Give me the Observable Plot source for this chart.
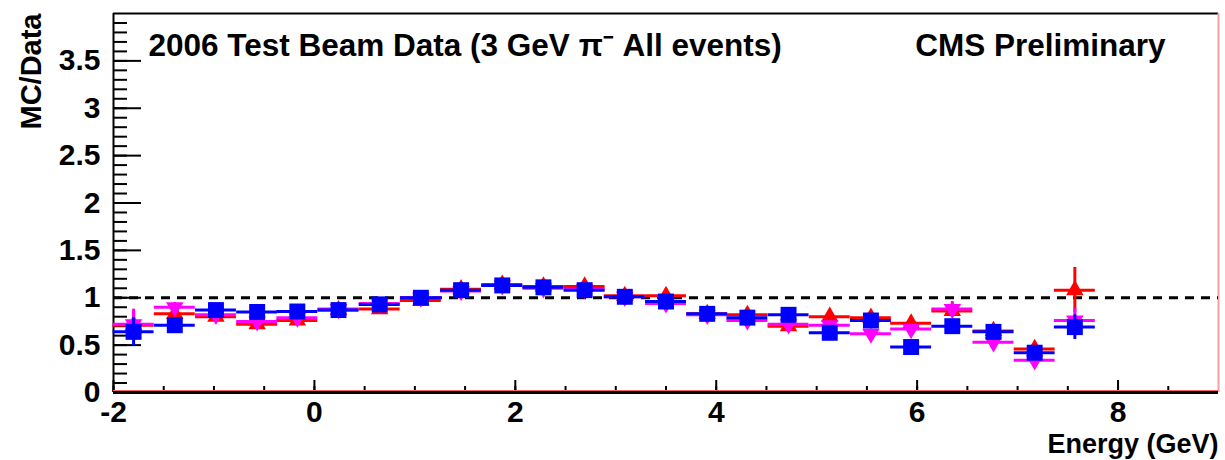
<!DOCTYPE html>
<html><head><meta charset="utf-8">
<script src="https://cdn.jsdelivr.net/npm/d3@7"></script>
<script src="https://cdn.jsdelivr.net/npm/@observablehq/plot@0.6"></script>
<style>body{margin:0;background:#fff} #chart{width:1225px;height:460px}</style>
</head><body><div id="chart"></div>
<script>
// Bin centres (27 bins over [-2, 9], 24 filled)
const binCenters = [-1.80, -1.39, -0.98, -0.57, -0.17, 0.24, 0.65, 1.06, 1.46, 1.87, 2.28, 2.69,
                    3.09, 3.50, 3.91, 4.31, 4.72, 5.13, 5.54, 5.94, 6.35, 6.76, 7.17, 7.57];
const halfWidth = 0.2037;

const redVals = [0.71, 0.83, 0.80, 0.72, 0.76, 0.87, 0.88, 0.97, 1.09, 1.14, 1.12, 1.12,
                 1.02, 1.02, 0.83, 0.82, 0.70, 0.80, 0.79, 0.73, 0.86, 0.65, 0.46, 1.08];
const redErr  = [0.15, 0.05, 0.04, 0.04, 0.03, 0.03, 0.03, 0.03, 0.03, 0.03, 0.03, 0.03,
                 0.03, 0.03, 0.03, 0.03, 0.04, 0.04, 0.04, 0.05, 0.06, 0.06, 0.06, 0.24];
const magVals = [0.72, 0.90, 0.82, 0.75, 0.79, 0.88, 0.94, 1.00, 1.07, 1.13, 1.10, 1.09,
                 1.01, 0.94, 0.82, 0.76, 0.72, 0.71, 0.62, 0.67, 0.88, 0.53, 0.34, 0.76];
const magErr  = [0.16, 0.05, 0.04, 0.04, 0.03, 0.03, 0.03, 0.03, 0.03, 0.03, 0.03, 0.03,
                 0.03, 0.03, 0.03, 0.03, 0.04, 0.04, 0.05, 0.05, 0.08, 0.06, 0.06, 0.13];
const blueVals = [0.64, 0.71, 0.87, 0.85, 0.855, 0.87, 0.93, 1.00, 1.08, 1.13, 1.11, 1.08,
                  1.01, 0.96, 0.83, 0.79, 0.82, 0.63, 0.76, 0.48, 0.70, 0.64, 0.42, 0.69];
const blueErr  = [0.15, 0.05, 0.04, 0.04, 0.03, 0.03, 0.03, 0.03, 0.03, 0.03, 0.03, 0.03,
                  0.03, 0.03, 0.03, 0.03, 0.04, 0.04, 0.04, 0.05, 0.06, 0.06, 0.06, 0.13];

const yTickLabels = [0, 0.5, 1, 1.5, 2, 2.5, 3, 3.5];
const xTickLabels = [-2, 0, 2, 4, 6, 8];
const yMinorTicks = d3.range(0, 40).map(i => i / 10);
const xMinorTicks = d3.range(-4, 18).map(i => i / 2);

const titleText = "2006 Test Beam Data (3 GeV \u03c0\u207b All events)";
const cmsText = "CMS Preliminary";
const yLabel = "MC/Data";
const xLabel = "Energy (GeV)";

const W = 1225, H = 460, mL = 113, mR = 7, mT = 13, mB = 68;
const frameW = W - mL - mR, frameH = H - mT - mB;
const FONT = "Liberation Sans, Arial, Helvetica, sans-serif";

const triDown = {
  draw(ctx, size) {
    const y = -Math.sqrt(size / (Math.sqrt(3) * 3));
    ctx.moveTo(0, -2 * y);
    ctx.lineTo(-Math.sqrt(3) * y, y);
    ctx.lineTo(Math.sqrt(3) * y, y);
    ctx.closePath();
  }
};

function rows(vals, errs) { return binCenters.map((x, i) => ({x, v: vals[i], e: errs[i]})); }
function series(data, color, symbol, r) {
  return [
    Plot.ruleY(data, {y: "v", x1: d => d.x - halfWidth, x2: d => d.x + halfWidth, stroke: color, strokeWidth: 3}),
    Plot.ruleX(data, {x: "x", y1: d => d.v - d.e, y2: d => d.v + d.e, stroke: color, strokeWidth: 3}),
    Plot.dot(data, {x: "x", y: "v", symbol, r, fill: color, stroke: "none"})
  ];
}

const chart = Plot.plot({
  width: W, height: H,
  marginLeft: mL, marginRight: mR, marginTop: mT, marginBottom: mB,
  style: {fontFamily: FONT, background: "white"},
  x: {domain: [-2, 9]},
  y: {domain: [0, 4]},
  marks: [
    // inside ticks
    Plot.tickY(yMinorTicks, {y: d => d, insetRight: frameW - 14, stroke: "black", strokeWidth: 2}),
    Plot.tickY(yTickLabels, {y: d => d, insetRight: frameW - 28, stroke: "black", strokeWidth: 2}),
    Plot.tickX(xMinorTicks, {x: d => d, insetTop: frameH - 6, stroke: "black", strokeWidth: 2}),
    Plot.tickX(xTickLabels, {x: d => d, insetTop: frameH - 12, stroke: "black", strokeWidth: 2}),
    // frame
    Plot.ruleX([-2], {stroke: "black", strokeWidth: 2}),
    Plot.ruleY([4], {stroke: "black", strokeWidth: 2}),
    Plot.ruleX([9], {stroke: "#f2a0a0", strokeWidth: 2}),
    // reference line
    Plot.ruleY([1], {stroke: "black", strokeWidth: 3, strokeDasharray: "9,7"}),
    ...series(rows(redVals, redErr), "#ff0000", "triangle", 6.5),
    ...series(rows(magVals, magErr), "#ff00ff", triDown, 6.5),
    ...series(rows(blueVals, blueErr), "#0000ff", "square", 9),
    Plot.ruleY([0], {stroke: "black", strokeWidth: 3}),
    Plot.ruleY([0], {stroke: "#ff6060", strokeWidth: 1, dy: -2}),
    // axes labels
    Plot.axisY({ticks: yTickLabels, tickSize: 0, tickPadding: 13, tickFormat: d => String(d),
                fontSize: 30, fontWeight: "bold", label: null}),
    Plot.axisX({ticks: xTickLabels, tickSize: 0, tickPadding: 8, tickFormat: d => String(d),
                fontSize: 30, fontWeight: "bold", label: null}),
    Plot.text([yLabel], {text: d => d, frameAnchor: "top-left", rotate: -90, textAnchor: "end",
                lineAnchor: "middle", dx: -82, dy: 0, fontSize: 29, fontWeight: "bold", fill: "black"}),
    Plot.text([xLabel], {text: d => d, frameAnchor: "bottom-right", textAnchor: "end",
                lineAnchor: "bottom", dx: 0, dy: 60, fontSize: 27, fontWeight: "bold", fill: "black"}),
    Plot.text([titleText], {text: d => d, frameAnchor: "top-left", textAnchor: "start",
                lineAnchor: "top", dx: 35, dy: 20, fontSize: 31.5, fontWeight: "bold", fill: "black"}),
    Plot.text([cmsText], {text: d => d, frameAnchor: "top-right", textAnchor: "end",
                lineAnchor: "top", dx: -53, dy: 20, fontSize: 31.5, fontWeight: "bold", fill: "black"})
  ]
});
document.getElementById("chart").appendChild(chart);
</script>
</body></html>
